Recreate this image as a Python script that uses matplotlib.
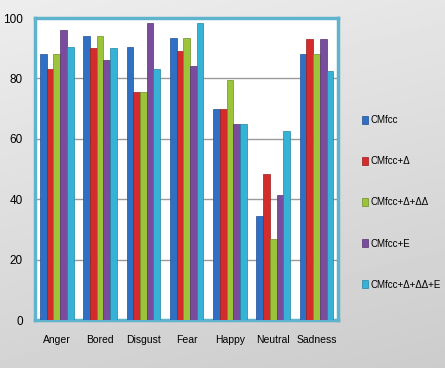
import numpy as np
import matplotlib
matplotlib.use("Agg")
import matplotlib.pyplot as plt

# emotion categories and recognition rates (%) per feature set
categories = ["Anger", "Bored", "Disgust", "Fear", "Happy", "Neutral", "Sadness"]
series_names = ["CMfcc", "CMfcc+Δ", "CMfcc+Δ+ΔΔ", "CMfcc+E", "CMfcc+Δ+ΔΔ+E"]
cmfcc = [88, 94, 90.5, 93.5, 70, 34.5, 88]
cmfcc_d = [83, 90, 75.5, 89, 70, 48.5, 93]
cmfcc_d_dd = [88, 94, 75.5, 93.5, 79.5, 27, 88]
cmfcc_e = [96, 86, 98.5, 84, 65, 41.5, 93]
cmfcc_d_dd_e = [90.5, 90, 83, 98.5, 65, 62.5, 82.5]
values = [cmfcc, cmfcc_d, cmfcc_d_dd, cmfcc_e, cmfcc_d_dd_e]

colors = ["#2f6fc4", "#d42b2b", "#9cc43a", "#7a4c9e", "#35b2d6"]
edges = ["#1f4f94", "#9c1d1d", "#6f8f24", "#55336f", "#2384a0"]

plt.rcParams["font.family"] = ["Liberation Sans", "DejaVu Sans"]

fig = plt.figure(figsize=(4.45, 3.68), dpi=100)

# grey gradient background
bg = fig.add_axes([0, 0, 1, 1], zorder=-10)
yy, xx = np.mgrid[0:1:200j, 0:1:200j]
grad = 0.93 - 0.10 * yy - 0.03 * xx
bg.imshow(grad, cmap="gray", vmin=0, vmax=1, aspect="auto", extent=[0, 1, 0, 1])
bg.set_axis_off()

ax = fig.add_axes([0.079, 0.13, 0.681, 0.821])
ax.set_facecolor("white")

x = np.arange(len(categories))
w = 0.155
for i, (vals, c, e, name) in enumerate(zip(values, colors, edges, series_names)):
    ax.bar(x + (i - 2) * w, vals, width=w, color=c, edgecolor=e, linewidth=0.5,
           label=name, zorder=3)

ax.set_xlim(-0.5, len(categories) - 0.5)
ax.set_ylim(0, 100)
ax.set_yticks(range(0, 101, 20))
ax.set_xticks(x)
ax.set_xticklabels(categories, fontsize=7.5)
ax.tick_params(axis="y", labelsize=8.5, length=0, pad=9)
ax.tick_params(axis="x", length=0, pad=11)
ax.grid(axis="y", color="#9a9a9a", linewidth=1, zorder=0)
for s in ax.spines.values():
    s.set_color("#5fb3cc")
    s.set_linewidth(2.5)

fig.legend(loc="center left", bbox_to_anchor=(0.805, 0.45), frameon=False,
           fontsize=7, labelspacing=3.2, handlelength=0.6, handleheight=0.9,
           handletextpad=0.3, borderaxespad=0)

fig.savefig("out.png", dpi=100)
